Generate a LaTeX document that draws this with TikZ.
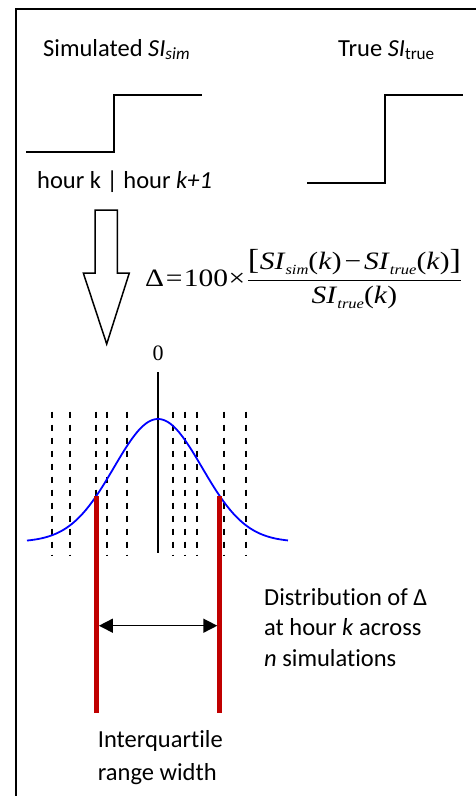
\documentclass[tikz,border=0pt]{standalone}
\usepackage{fontspec}
\setmainfont{Carlito}[Ligatures=NoCommon]
\newfontfamily\tnr{Liberation Serif}
\usepackage{graphicx}
\usetikzlibrary{arrows.meta}
\definecolor{iqrred}{RGB}{192,0,0}
\definecolor{curveblue}{RGB}{0,0,255}
\newcommand\fsub[1]{\raisebox{-5pt}{\fontsize{14}{14}\selectfont\itshape #1}}
\begin{document}
\begin{tikzpicture}[x=1pt,y=-1pt,
  lbl/.style={inner sep=0pt, anchor=base west, font=\fontsize{24.5}{31}\selectfont},
  frame/.style={line width=2pt, black},
  stepline/.style={line width=2pt, black},
  dashline/.style={line width=2pt, black, dash pattern=on 6pt off 7pt},
  iqr/.style={line width=4.5pt, iqrred},
  hollow/.style={line width=1.5pt, black, line join=miter}]
\useasboundingbox (0,0) rectangle (476,796);
% frame
\coordinate (fTL) at (15.5,9);
\coordinate (fTR) at (476,9);
\coordinate (fBL) at (15.5,796);
\draw[frame] (fTR) -- (fTL) -- (fBL);
% titles
\node[lbl] (tsim) at (43,56) {Simulated \textit{SI}\textsubscript{\textit{sim}}};
\node[lbl] (ttrue) at (338,56) {True \textit{SI}\textsubscript{true}};
% step simulated
\coordinate (s1a) at (26,152);
\coordinate (s1b) at (114,152);
\coordinate (s1c) at (114,95);
\coordinate (s1d) at (202,95);
\draw[stepline] (s1a) -- (s1b) -- (s1c) -- (s1d);
% step true
\coordinate (s2a) at (307,183);
\coordinate (s2b) at (385,183);
\coordinate (s2c) at (385,95);
\coordinate (s2d) at (463,95);
\draw[stepline] (s2a) -- (s2b) -- (s2c) -- (s2d);
\node[lbl] (hour) at (37,188) {hour k | hour \textit{k+1}};
% hollow arrow
\coordinate (a1) at (95,210);
\coordinate (a2) at (117.3,210);
\coordinate (a3) at (117.3,273);
\coordinate (a4) at (129.3,273);
\coordinate (a5) at (106.7,344);
\coordinate (a6) at (83.3,273);
\coordinate (a7) at (95,273);
\draw[hollow] (a1) -- (a2) -- (a3) -- (a4) -- (a5) -- (a6) -- (a7) -- cycle;
% formula
\node[inner sep=0pt, anchor=base west] (formula) at (145,286.7) {\scalebox{1.18}[1]{\tnr\fontsize{25}{30}\selectfont
  Δ\kern1.5pt=\kern1pt100\kern0.5pt×\kern1pt$\displaystyle\frac{\mbox{{\fontsize{29}{30}\selectfont[}\kern0.5pt\textit{SI}\fsub{sim}(\textit{k})\kern2.5pt−\kern2.5pt\textit{SI}\fsub{true}(\textit{k}){\fontsize{29}{30}\selectfont]}}}{\mbox{\textit{SI}\fsub{true}(\textit{k})}}$}};
% zero
\node[inner sep=0pt, anchor=base, font=\tnr\fontsize{22}{24}\selectfont] (zero) at (158,360) {0};
\coordinate (c0t) at (158,372);
\coordinate (c0b) at (158,553);
\draw[stepline] (c0t) -- (c0b);
% dashed lines
\foreach \xx [count=\i] in {52.3,70,95.7,107.3,126.7,173.3,185.3,197,224.3,246}{
  \coordinate (d\i t) at (\xx,411.5);
  \coordinate (d\i b) at (\xx,555);
  \draw[dashline] (d\i t) -- (d\i b);
}
% gaussian
\draw[curveblue, line width=1.8pt] plot[domain=27:288, samples=130, smooth] (\x, {542-123*exp(-0.5*((\x-158)/44)^2)});
% IQR lines
\coordinate (r1t) at (96.7,496);
\coordinate (r1b) at (96.7,713);
\coordinate (r2t) at (219.5,496);
\coordinate (r2b) at (219.5,713);
\draw[iqr] (r1t) -- (r1b);
\draw[iqr] (r2t) -- (r2b);
\coordinate (w1) at (98.9,625.7);
\coordinate (w2) at (217.3,625.7);
\draw[line width=1.5pt, {Triangle[length=14pt,width=14pt]}-{Triangle[length=14pt,width=14pt]}] (w1) -- (w2);
% distribution text
\node[lbl] (dist1) at (264,605) {Distribution of Δ};
\node[lbl] (dist2) at (264,635.5) {at hour \textit{k} across};
\node[lbl] (dist3) at (264,666) {\textit{n} simulations};
% IQR text
\node[lbl] (iq1) at (97.7,747) {Interquartile};
\node[lbl] (iq2) at (97.7,780.5) {range width};
\end{tikzpicture}
\end{document}
